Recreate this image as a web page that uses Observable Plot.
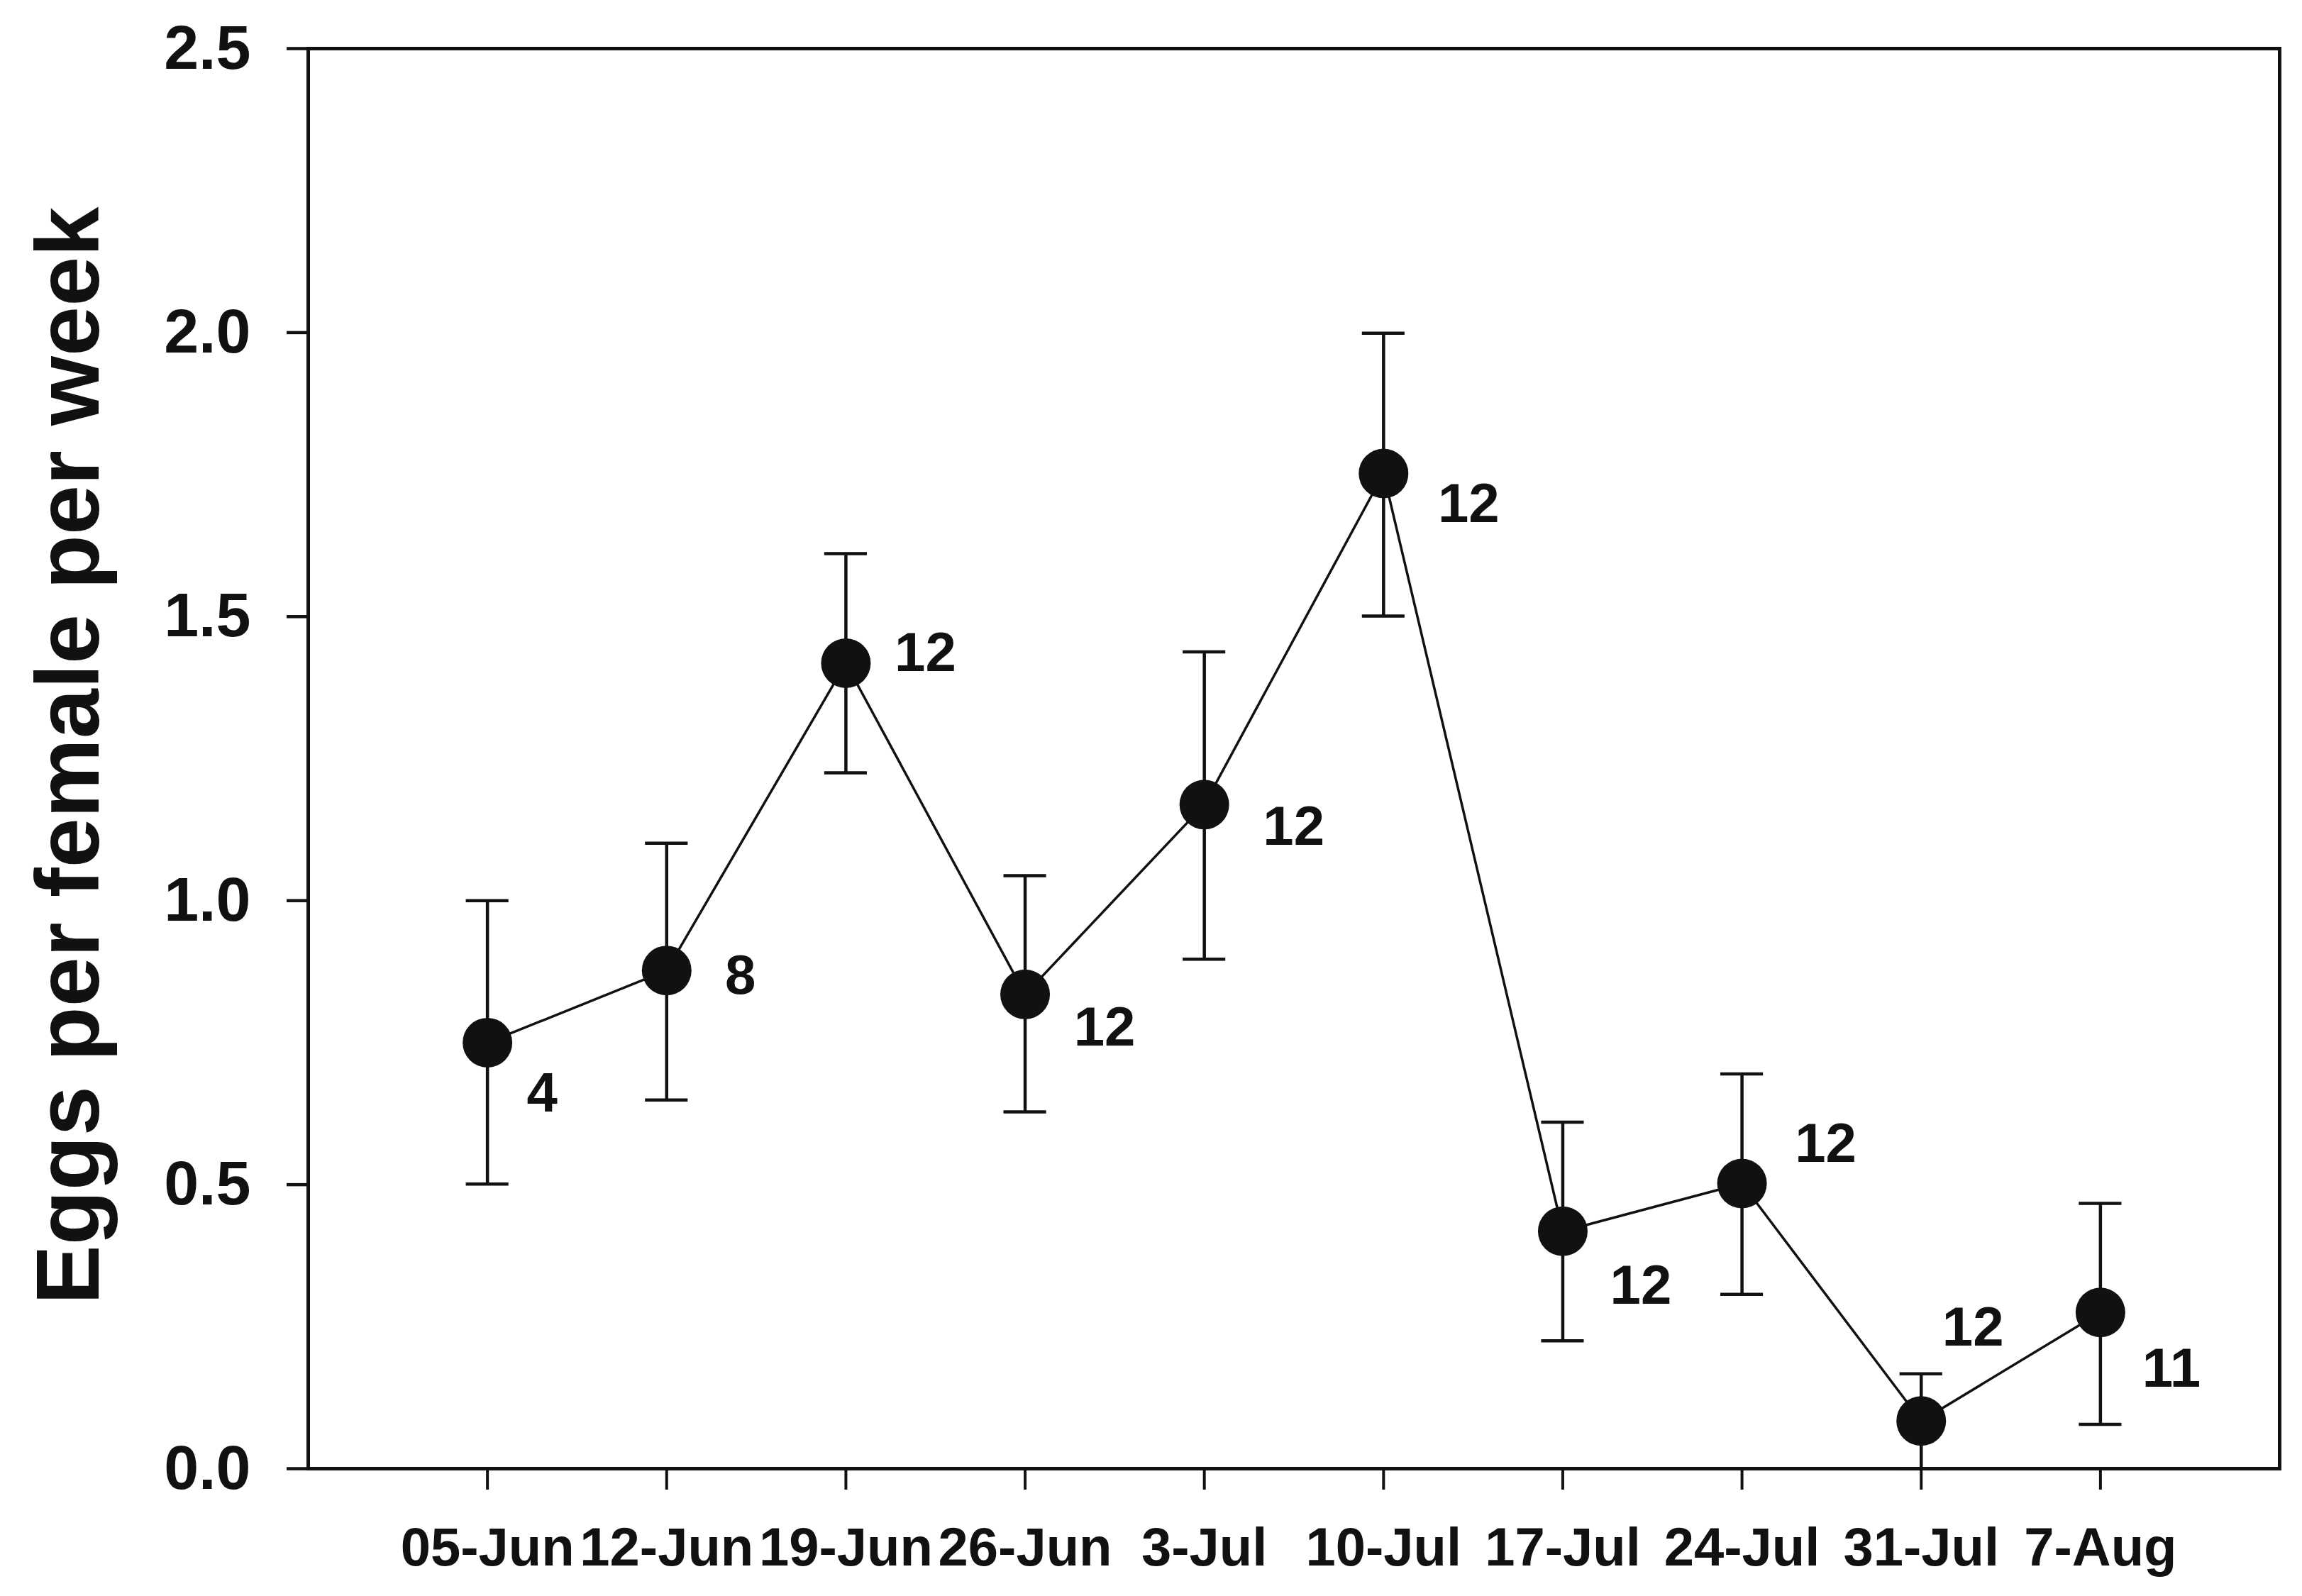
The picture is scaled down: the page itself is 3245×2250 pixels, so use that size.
<!DOCTYPE html>
<html><head><meta charset="utf-8">
<script src="https://cdn.jsdelivr.net/npm/d3@7"></script>
<script src="https://cdn.jsdelivr.net/npm/@observablehq/plot@0.6"></script>
<style>html,body{margin:0;padding:0;background:#fff} svg{display:block}</style>
</head><body><div id="chart"></div>
<script>
// ---- data ----
const dates = ["05-Jun","12-Jun","19-Jun","26-Jun","3-Jul","10-Jul","17-Jul","24-Jul","31-Jul","7-Aug"];
const means = [0.75, 0.877, 1.418, 0.835, 1.169, 1.752, 0.418, 0.502, 0.084, 0.275];
const upper = [1.0, 1.101, 1.611, 1.044, 1.438, 1.999, 0.610, 0.695, 0.167, 0.467];
const lower = [0.501, 0.649, 1.225, 0.628, 0.897, 1.501, 0.225, 0.307, 0.0, 0.078];
const nLabels = ["4","8","12","12","12","12","12","12","12","11"];
const yTicks = [0, 0.5, 1.0, 1.5, 2.0, 2.5];
const yTitle = "Eggs per female per week";

// ---- layout (pixel offsets of the n labels from their points) ----
const labelOffsets = [[77,72],[104,8],[112,-14],[112,47],[126,32],[120,44],[110,77],[118,-55],[73,-131],[100,80]];
const capHalf = 0.119; // half-width of error caps, in x-index units

const rows = dates.map((d, i) => ({i, date: d, mean: means[i], lo: lower[i], hi: upper[i], n: nLabels[i]}));
const ink = "#111";
const font = "'Liberation Sans', Arial, Helvetica, sans-serif";

const chart = Plot.plot({
  width: 3245,
  height: 2250,
  marginLeft: 434,
  marginRight: 32,
  marginTop: 68,
  marginBottom: 180,
  style: {fontFamily: font, background: "#fff", color: ink},
  x: {type: "linear", domain: [-1, dates.length]},
  y: {domain: [0, 2.5]},
  marks: [
    Plot.axisY({ticks: yTicks, tickFormat: d => d.toFixed(1), tickSize: 30, tickPadding: 51,
      fontSize: 88, fontWeight: "bold", strokeWidth: 4.5, stroke: ink, fill: ink, label: null}),
    Plot.axisX({ticks: d3.range(dates.length), tickFormat: i => dates[i], tickSize: 30, tickPadding: 53,
      fontSize: 76, fontWeight: "bold", strokeWidth: 4, stroke: ink, fill: ink, label: null}),
    Plot.frame({stroke: ink, strokeWidth: 5}),
    Plot.text([yTitle], {frameAnchor: "left", text: d => d, rotate: -90, textAnchor: "middle", lineAnchor: "bottom",
      dx: -296, dy: -4, fontSize: 126, fontWeight: "bold", fill: ink}),
    Plot.ruleX(rows, {x: "i", y1: "lo", y2: "hi", stroke: ink, strokeWidth: 4.5}),
    Plot.ruleY(rows, {y: "hi", x1: d => d.i - capHalf, x2: d => d.i + capHalf, stroke: ink, strokeWidth: 4.5}),
    Plot.ruleY(rows, {y: "lo", x1: d => d.i - capHalf, x2: d => d.i + capHalf, stroke: ink, strokeWidth: 4.5}),
    Plot.line(rows, {x: "i", y: "mean", stroke: ink, strokeWidth: 3.5}),
    Plot.dot(rows, {x: "i", y: "mean", r: 35, fill: ink, stroke: "none"}),
    ...rows.map((r, k) => Plot.text([r], {x: "i", y: "mean", text: "n", dx: labelOffsets[k][0], dy: labelOffsets[k][1],
      fontSize: 78, fontWeight: "bold", fill: ink}))
  ]
});
document.getElementById("chart").appendChild(chart);
</script>
</body></html>
